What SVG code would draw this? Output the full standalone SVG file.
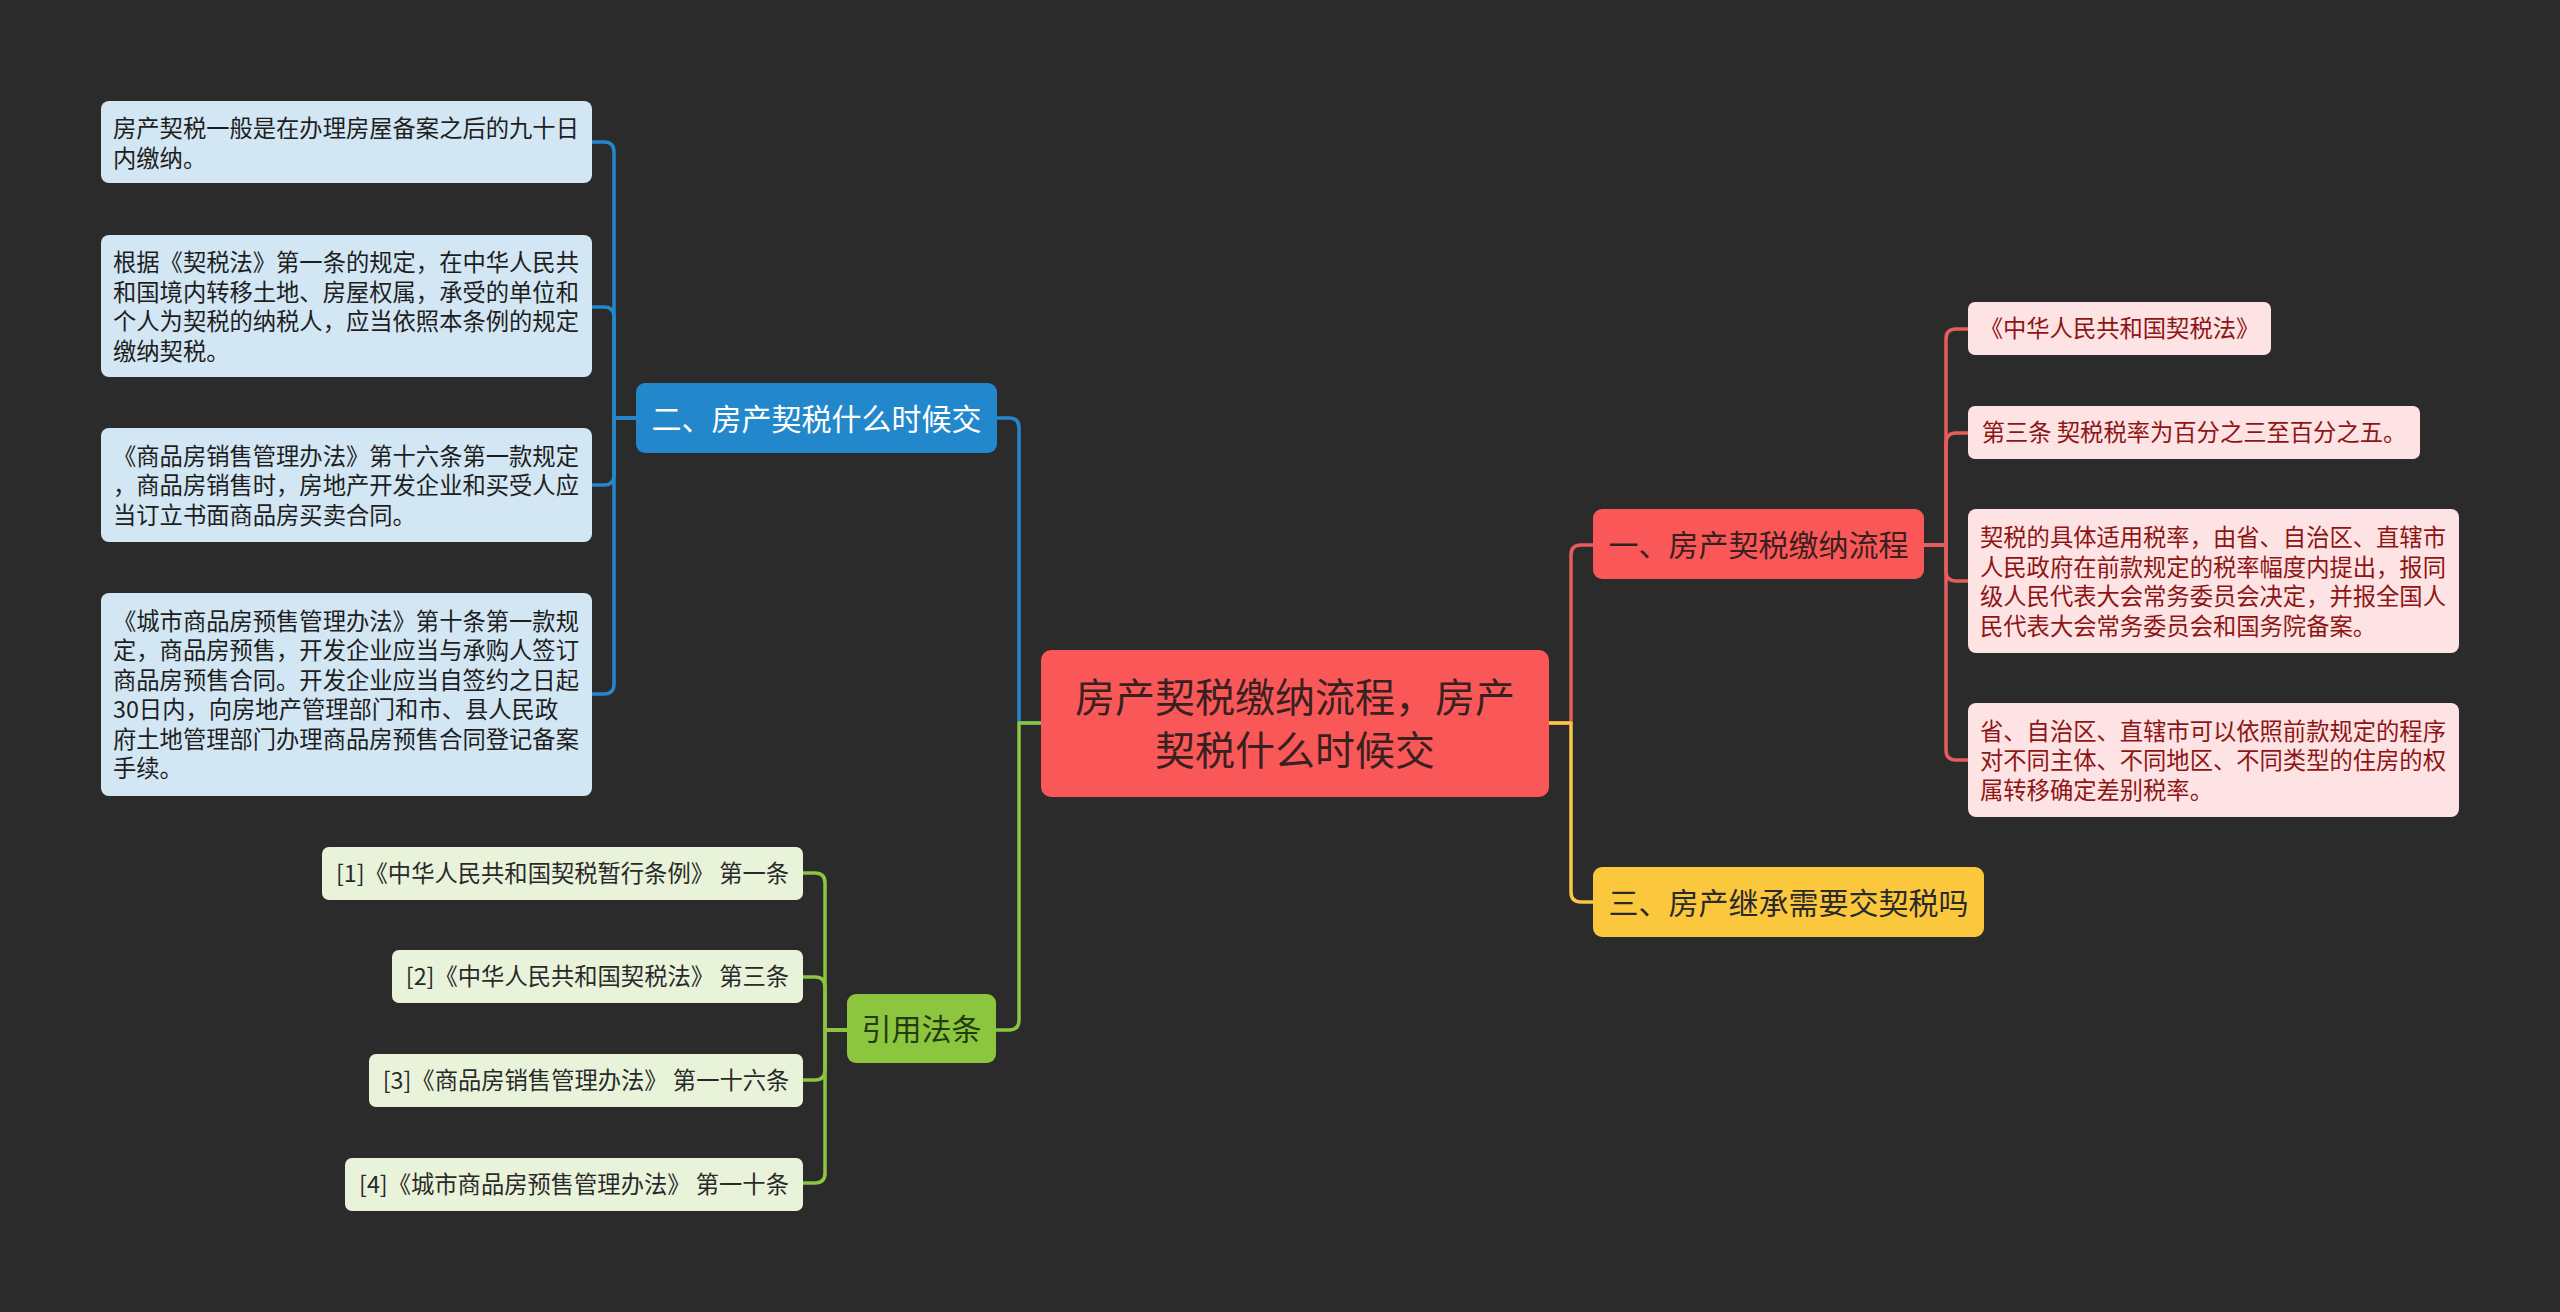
<svg xmlns="http://www.w3.org/2000/svg" width="2560" height="1312" viewBox="0 0 2560 1312">
<style>
text{font-family:"Noto Sans CJK SC","Noto Sans",sans-serif}
.c{fill:none;stroke-width:3.5;stroke-linejoin:round}
.cb{stroke:#2387cb}.cr{stroke:#e55d5d}.cy{stroke:#f6c843}.cg{stroke:#8cc63e}
.lb{fill:#d2e6f4}.lr{fill:#fde3e3}.lg{fill:#e9f3da}
.tb{font-size:23.3px;fill:#1e1e1e}
.tr{font-size:23.3px;fill:#8e1515}
.tg{font-size:23.3px;fill:#2a2a2a}
.big{font-size:30px}
</style>
<rect width="2560" height="1312" fill="#2b2b2b"/>
<g id="connectors">
<path class="c cb" d="M1041,723 H1019 V428 Q1019,418 1009,418 H997"/>
<path class="c cb" d="M636,418 H614 V152 Q614,142 604,142 H592"/>
<path class="c cb" d="M636,418 H614 V317 Q614,307 604,307 H592"/>
<path class="c cb" d="M636,418 H614 V475 Q614,485 604,485 H592"/>
<path class="c cb" d="M636,418 H614 V684 Q614,694 604,694 H592"/>
<path class="c cg" d="M1041,723 H1019 V1020 Q1019,1030 1009,1030 H996"/>
<path class="c cg" d="M847,1030 H825 V883 Q825,873 815,873 H803"/>
<path class="c cg" d="M847,1030 H825 V987 Q825,977 815,977 H803"/>
<path class="c cg" d="M847,1030 H825 V1070 Q825,1080 815,1080 H803"/>
<path class="c cg" d="M847,1030 H825 V1173 Q825,1183 815,1183 H803"/>
<path class="c cr" d="M1549,723 H1571 V555 Q1571,545 1581,545 H1593"/>
<path class="c cy" d="M1549,723 H1571 V892 Q1571,902 1581,902 H1593"/>
<path class="c cr" d="M1924,545 H1946 V339 Q1946,329 1956,329 H1968"/>
<path class="c cr" d="M1924,545 H1946 V443 Q1946,433 1956,433 H1968"/>
<path class="c cr" d="M1924,545 H1946 V571 Q1946,581 1956,581 H1968"/>
<path class="c cr" d="M1924,545 H1946 V750 Q1946,760 1956,760 H1968"/>
</g>
<g id="center">
<rect x="1041" y="650" width="508" height="147" rx="10" fill="#fa5858"/>
<text x="1295" y="712" font-size="40" fill="#3a2020" text-anchor="middle">房产契税缴纳流程，房产</text>
<text x="1295" y="765" font-size="40" fill="#3a2020" text-anchor="middle">契税什么时候交</text>
</g>
<g id="b2">
<rect x="636" y="383" width="361" height="70" rx="9" fill="#2387cb"/>
<text class="big" x="816.5" y="429.5" fill="#ffffff" text-anchor="middle">二、房产契税什么时候交</text>
</g>
<g id="b2-1">
<rect class="lb" x="101" y="101" width="491" height="82" rx="8"/>
<text class="tb"><tspan x="113" y="137">房产契税一般是在办理房屋备案之后的九十日</tspan><tspan x="113" y="167">内缴纳。</tspan></text>
</g>
<g id="b2-2">
<rect class="lb" x="101" y="235" width="491" height="142" rx="8"/>
<text class="tb"><tspan x="113" y="271">根据《契税法》第一条的规定，在中华人民共</tspan><tspan x="113" y="300.5">和国境内转移土地、房屋权属，承受的单位和</tspan><tspan x="113" y="330">个人为契税的纳税人，应当依照本条例的规定</tspan><tspan x="113" y="359.5">缴纳契税。</tspan></text>
</g>
<g id="b2-3">
<rect class="lb" x="101" y="428" width="491" height="114" rx="8"/>
<text class="tb"><tspan x="113" y="464.5">《商品房销售管理办法》第十六条第一款规定</tspan><tspan x="113" y="494">，商品房销售时，房地产开发企业和买受人应</tspan><tspan x="113" y="523.5">当订立书面商品房买卖合同。</tspan></text>
</g>
<g id="b2-4">
<rect class="lb" x="101" y="593" width="491" height="203" rx="8"/>
<text class="tb"><tspan x="113" y="629.5">《城市商品房预售管理办法》第十条第一款规</tspan><tspan x="113" y="659">定，商品房预售，开发企业应当与承购人签订</tspan><tspan x="113" y="688.5">商品房预售合同。开发企业应当自签约之日起</tspan><tspan x="113" y="718">30日内，向房地产管理部门和市、县人民政</tspan><tspan x="113" y="747.5">府土地管理部门办理商品房预售合同登记备案</tspan><tspan x="113" y="777">手续。</tspan></text>
</g>
<g id="b1">
<rect x="1593" y="509" width="331" height="70" rx="9" fill="#fa5858"/>
<text class="big" x="1758.5" y="555.5" fill="#3a1f1f" text-anchor="middle">一、房产契税缴纳流程</text>
</g>
<g id="b1-1">
<rect class="lr" x="1968" y="302" width="303" height="53" rx="7"/>
<text class="tr" x="2119.5" y="337" text-anchor="middle">《中华人民共和国契税法》</text>
</g>
<g id="b1-2">
<rect class="lr" x="1968" y="406" width="452" height="53" rx="7"/>
<text class="tr" x="2194" y="441" text-anchor="middle">第三条 契税税率为百分之三至百分之五。</text>
</g>
<g id="b1-3">
<rect class="lr" x="1968" y="509" width="491" height="144" rx="8"/>
<text class="tr"><tspan x="1980" y="546">契税的具体适用税率，由省、自治区、直辖市</tspan><tspan x="1980" y="575.5">人民政府在前款规定的税率幅度内提出，报同</tspan><tspan x="1980" y="605">级人民代表大会常务委员会决定，并报全国人</tspan><tspan x="1980" y="634.5">民代表大会常务委员会和国务院备案。</tspan></text>
</g>
<g id="b1-4">
<rect class="lr" x="1968" y="703" width="491" height="114" rx="8"/>
<text class="tr"><tspan x="1980" y="739.5">省、自治区、直辖市可以依照前款规定的程序</tspan><tspan x="1980" y="769">对不同主体、不同地区、不同类型的住房的权</tspan><tspan x="1980" y="798.5">属转移确定差别税率。</tspan></text>
</g>
<g id="b3">
<rect x="1593" y="867" width="391" height="70" rx="9" fill="#fbc83d"/>
<text class="big" x="1788.5" y="913.5" fill="#2a2a2a" text-anchor="middle">三、房产继承需要交契税吗</text>
</g>
<g id="b4">
<rect x="847" y="994" width="149" height="69" rx="9" fill="#8cc63e"/>
<text class="big" x="921.5" y="1040" fill="#263a10" text-anchor="middle">引用法条</text>
</g>
<g id="b4-1">
<rect class="lg" x="322" y="847" width="481" height="53" rx="7"/>
<text class="tg" x="562.5" y="882" text-anchor="middle">[1]《中华人民共和国契税暂行条例》 第一条</text>
</g>
<g id="b4-2">
<rect class="lg" x="392" y="950" width="411" height="53" rx="7"/>
<text class="tg" x="597.5" y="985" text-anchor="middle">[2]《中华人民共和国契税法》 第三条</text>
</g>
<g id="b4-3">
<rect class="lg" x="369" y="1054" width="434" height="53" rx="7"/>
<text class="tg" x="586" y="1089" text-anchor="middle">[3]《商品房销售管理办法》 第一十六条</text>
</g>
<g id="b4-4">
<rect class="lg" x="345" y="1158" width="458" height="53" rx="7"/>
<text class="tg" x="574" y="1193" text-anchor="middle">[4]《城市商品房预售管理办法》 第一十条</text>
</g>
</svg>
